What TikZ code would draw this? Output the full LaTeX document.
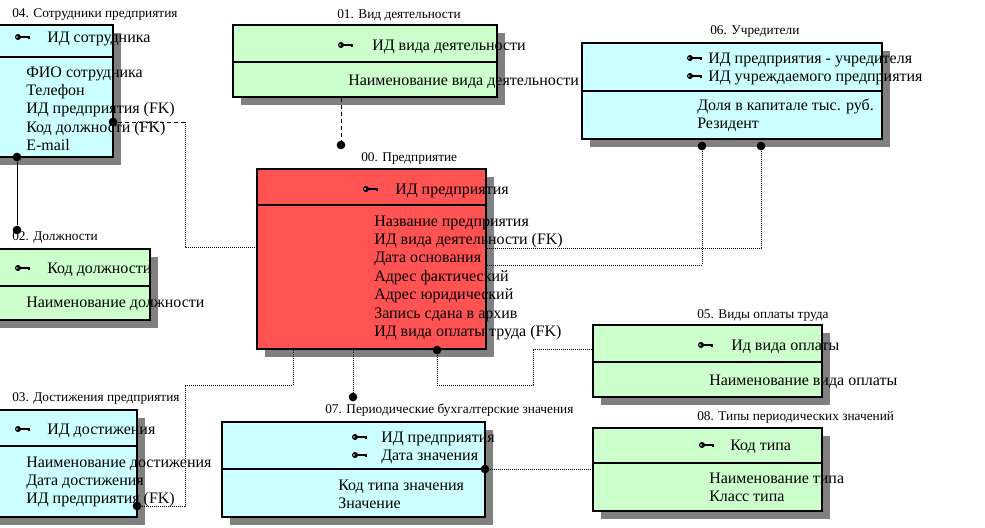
\documentclass[tikz,border=0pt]{standalone}
\usepackage{fontspec}
\setmainfont{Liberation Serif}
\usetikzlibrary{shadows, fit}

\definecolor{ercyan}{RGB}{204,255,255}
\definecolor{ergreen}{RGB}{204,255,204}
\definecolor{erred}{RGB}{255,82,82}
\definecolor{ershadow}{RGB}{128,128,128}

\tikzset{
  pkey/.pic={
    \fill (3,0) circle[radius=3];
    \fill[white] (2,0) circle[radius=0.8];
    \draw[line width=1pt] (5,0) -- (14,0) -- (14,2);
  }
}

\begin{document}
\begin{tikzpicture}[
    x=0.75pt, y=-0.75pt,
    box/.style={draw, line width=1.1pt, inner sep=0pt,
      drop shadow={shadow xshift=6pt, shadow yshift=-6pt, fill=ershadow, opacity=1}},
    title/.style={anchor=west, inner sep=0pt, font=\fontsize{10}{12}\selectfont},
    rows/.style={anchor=north west, inner sep=0pt, align=left, font=\fontsize{12}{13.8}\selectfont},
    dot/.style={circle, fill, inner sep=0pt, minimum size=6.5pt},
    dotrel/.style={line width=0.75pt, dash pattern=on 0.75pt off 0.75pt},
    dashrel/.style={line width=0.75pt, dash pattern=on 3pt off 2.25pt},
    solidrel/.style={line width=0.75pt}
]
\useasboundingbox (0,0) rectangle (985,528);
\clip (0,0) rectangle (985,528);

% 04. Сотрудники предприятия
\node[title] (t04) at (12,15) {04. Сотрудники предприятия};
\node[box, fill=ercyan, fit={(-10,25) (113,57)}] (e04k) {};
\node[box, fill=ercyan, fit={(-10,57) (113,157)}] (e04a) {};
\pic at (15,37) {pkey};
\node[rows] (k04) at (47,29) {\strut ИД сотрудника};
\node[rows] (a04) at (26,64) {\strut ФИО сотрудника\\Телефон\\ИД предприятия (FK)\\Код должности (FK)\\E-mail};

% 01. Вид деятельности
\node[title] (t01) at (337,15) {01. Вид деятельности};
\node[box, fill=ergreen, fit={(233,25) (497,62)}] (e01k) {};
\node[box, fill=ergreen, fit={(233,62) (497,97)}] (e01a) {};
\pic at (338,45) {pkey};
\node[rows] (k01) at (372,37) {\strut ИД вида деятельности};
\node[rows] (a01) at (348,72) {\strut Наименование вида деятельности};

% 06. Учредители
\node[title] (t06) at (710,31) {06. Учредители};
\node[box, fill=ercyan, fit={(582,43) (882,91)}] (e06k) {};
\node[box, fill=ercyan, fit={(582,91) (882,139)}] (e06a) {};
\pic at (687,58) {pkey};
\pic at (687,76) {pkey};
\node[rows] (k06) at (708,50) {\strut ИД предприятия - учредителя\\ИД учреждаемого предприятия};
\node[rows] (a06) at (697,97) {\strut Доля в капитале тыс. руб.\\Резидент};

% 02. Должности
\node[title] (t02) at (12,237) {02. Должности};
\node[box, fill=ergreen, fit={(-10,249) (150,286)}] (e02k) {};
\node[box, fill=ergreen, fit={(-10,286) (150,320)}] (e02a) {};
\pic at (15,268) {pkey};
\node[rows] (k02) at (47,260) {\strut Код должности};
\node[rows] (a02) at (26,294) {\strut Наименование должности};

% 00. Предприятие
\node[title] (t00) at (361,158) {00. Предприятие};
\node[box, fill=erred, fit={(257,169) (486,205)}] (e00k) {};
\node[box, fill=erred, fit={(257,205) (486,349)}] (e00a) {};
\pic at (363,189) {pkey};
\node[rows] (k00) at (395,181) {\strut ИД предприятия};
\node[rows] (a00) at (374,213) {\strut Название предприятия\\ИД вида деятельности (FK)\\Дата основания\\Адрес фактический\\Адрес юридический\\Запись сдана в архив\\ИД вида оплаты труда (FK)};

% 05. Виды оплаты труда
\node[title] (t05) at (697,316) {05. Виды оплаты труда};
\node[box, fill=ergreen, fit={(593,325) (822,362)}] (e05k) {};
\node[box, fill=ergreen, fit={(593,362) (822,397)}] (e05a) {};
\pic at (698,345) {pkey};
\node[rows] (k05) at (731,337) {\strut Ид вида оплаты};
\node[rows] (a05) at (709,372) {\strut Наименование вида оплаты};

% 03. Достижения предприятия
\node[title] (t03) at (12,398) {03. Достижения предприятия};
\node[box, fill=ercyan, fit={(-10,410) (137,446)}] (e03k) {};
\node[box, fill=ercyan, fit={(-10,446) (137,517)}] (e03a) {};
\pic at (15,429) {pkey};
\node[rows] (k03) at (47,421) {\strut ИД достижения};
\node[rows] (a03) at (26,454) {\strut Наименование достижения\\Дата достижения\\ИД предприятия (FK)};

% 07. Периодические бухгалтерские значения
\node[title] (t07) at (325,410) {07. Периодические бухгалтерские значения};
\node[box, fill=ercyan, fit={(222,422) (485,469)}] (e07k) {};
\node[box, fill=ercyan, fit={(222,469) (485,517)}] (e07a) {};
\pic at (352,437) {pkey};
\pic at (352,455) {pkey};
\node[rows] (k07) at (381,429) {\strut ИД предприятия\\Дата значения};
\node[rows] (a07) at (338,477) {\strut Код типа значения\\Значение};

% 08. Типы периодических значений
\node[title] (t08) at (697,417) {08. Типы периодических значений};
\node[box, fill=ergreen, fit={(593,428) (822,463)}] (e08k) {};
\node[box, fill=ergreen, fit={(593,463) (822,511)}] (e08a) {};
\pic at (699,445) {pkey};
\node[rows] (k08) at (730,437) {\strut Код типа};
\node[rows] (a08) at (709,470) {\strut Наименование типа\\Класс типа};

% relationships
\node[dot] (p01) at (341,145) {};
\node[dot] (p04a) at (113,122) {};
\node[dot] (p04b) at (17,157) {};
\node[dot] (p02) at (17,230) {};
\node[dot] (p06a) at (702,146) {};
\node[dot] (p06b) at (761,146) {};
\node[dot] (p03) at (137,506) {};
\node[dot] (p07) at (353,397) {};
\node[dot] (p00) at (437,350) {};
\node[dot] (p07b) at (485,469) {};

\coordinate (b1) at (185,122);
\coordinate (b2) at (185,247);
\coordinate (c1) at (761,248);
\coordinate (c2) at (702,265);
\coordinate (f1) at (293,385);
\coordinate (f2) at (185,385);
\coordinate (g1) at (437,385);
\coordinate (g2) at (533,385);
\coordinate (g3) at (533,349);

\draw[dashrel] (p01 |- e01a.south) -- (p01);
\draw[dashrel] (p04a) -- (b1);
\draw[dotrel] (b1) -- (b2) -- (e00a.west |- b2);
\draw[solidrel] (p04b) -- (p02);
\draw[dotrel] (e00a.east |- c1) -- (c1) -- (p06b);
\draw[dotrel] (e00a.east |- c2) -- (c2) -- (p06a);
\draw[dotrel] (e00a.south -| f1) -- (f1) -- (f2) -- (f2 |- p03) -- (p03);
\draw[dotrel] (e00a.south -| p07) -- (p07);
\draw[dotrel] (p00) -- (g1) -- (g2) -- (g3) -- (e05k.west |- g3);
\draw[dotrel] (p07b) -- (e08a.west |- p07b);
\end{tikzpicture}
\end{document}
